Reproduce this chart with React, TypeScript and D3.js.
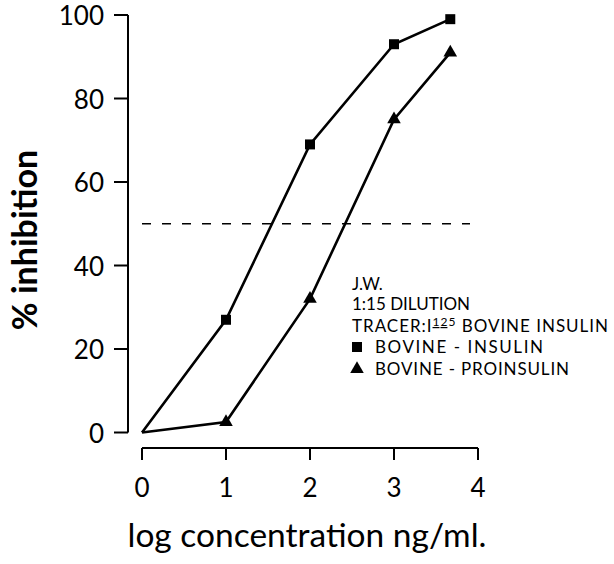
import * as d3 from "d3";

const xTicks = [0, 1, 2, 3, 4];
const yTicks = [0, 20, 40, 60, 80, 100];

// log concentration ng/ml
const insulinX = [0, 1, 2, 3, 3.67];
const insulinY = [0, 27, 69, 93, 99];
const proinsulinX = [0, 1, 2, 3, 3.67];
const proinsulinY = [0, 2.5, 32, 75, 91];

const halfLine = 50;

const legendNotes = ["J.W.", "1:15 DILUTION"];
const seriesNames = ["BOVINE - INSULIN", "BOVINE - PROINSULIN"];

const W = 614;
const H = 564;
const FONT = "Lato, 'DejaVu Sans', sans-serif";

export default function App() {
  const x = d3.scaleLinear().domain([0, 4]).range([142, 478]);
  const y = d3.scaleLinear().domain([0, 100]).range([432.5, 15]);
  const axisX = 128;
  const axisY = 448;

  const line = d3
    .line<[number, number]>()
    .x((d) => x(d[0]))
    .y((d) => y(d[1]));

  const ins: [number, number][] = insulinX.map((v, i) => [v, insulinY[i]]);
  const pro: [number, number][] = proinsulinX.map((v, i) => [v, proinsulinY[i]]);

  const square = d3.symbol().type(d3.symbolSquare).size(100);
  const tri = d3.symbol().type(d3.symbolTriangle).size(80);

  return (
    <svg
      width={W}
      height={H}
      viewBox={`0 0 ${W} ${H}`}
      style={{ position: "absolute", left: 0, top: 0, background: "#fff" }}
      fontFamily={FONT}
    >
      {/* y axis */}
      <line x1={axisX} x2={axisX} y1={y(100)} y2={y(0)} stroke="#000" strokeWidth={2} />
      {yTicks.map((t) => (
        <g key={t}>
          <line x1={axisX - 14} x2={axisX} y1={y(t)} y2={y(t)} stroke="#000" strokeWidth={2} />
          <text x={104} y={y(t) + 1} dy="0.36em" textAnchor="end" fontSize={26}>
            {t}
          </text>
        </g>
      ))}
      {/* x axis */}
      <line x1={x(0)} x2={x(4)} y1={axisY} y2={axisY} stroke="#000" strokeWidth={2} />
      {xTicks.map((t) => (
        <g key={t}>
          <line x1={x(t)} x2={x(t)} y1={axisY} y2={axisY + 12} stroke="#000" strokeWidth={2} />
          <text x={x(t)} y={497} textAnchor="middle" fontSize={26}>
            {t}
          </text>
        </g>
      ))}

      {/* 50% line */}
      <line
        x1={x(0)}
        x2={470}
        y1={y(halfLine)}
        y2={y(halfLine)}
        stroke="#000"
        strokeWidth={1.3}
        strokeDasharray="9 11"
      />

      {/* series */}
      <path d={line(ins) || ""} fill="none" stroke="#000" strokeWidth={2.6} />
      <path d={line(pro) || ""} fill="none" stroke="#000" strokeWidth={2.6} />
      {ins.slice(1).map((d, i) => (
        <path key={"s" + i} d={square() || ""} transform={`translate(${x(d[0])},${y(d[1])})`} fill="#000" />
      ))}
      {pro.slice(1).map((d, i) => (
        <path key={"t" + i} d={tri() || ""} transform={`translate(${x(d[0])},${y(d[1])})`} fill="#000" />
      ))}

      {/* legend */}
      <g fontSize={17}>
        <text x={352} y={290}>{legendNotes[0]}</text>
        <text x={352} y={310}>{legendNotes[1]}</text>
        <text x={352} y={332} textLength={256} lengthAdjust="spacing">
          TRACER:I
          <tspan dy={-6} fontSize={12} textDecoration="underline">12</tspan>
          <tspan fontSize={12}>5</tspan>
          <tspan dy={6}> BOVINE INSULIN</tspan>
        </text>
        <path d={square() || ""} transform="translate(357,347)" fill="#000" />
        <text x={375} y={353} textLength={168} lengthAdjust="spacing">{seriesNames[0]}</text>
        <path d={tri() || ""} transform="translate(357,369)" fill="#000" />
        <text x={375} y={375} textLength={194} lengthAdjust="spacing">{seriesNames[1]}</text>
      </g>

      {/* axis titles */}
      <text x={307} y={547} textAnchor="middle" fontSize={33.5}>
        log concentration ng/ml.
      </text>
      <text
        transform="translate(37,240) rotate(-90)"
        textAnchor="middle"
        fontSize={34}
        fontWeight="bold"
      >
        % inhibition
      </text>
    </svg>
  );
}
